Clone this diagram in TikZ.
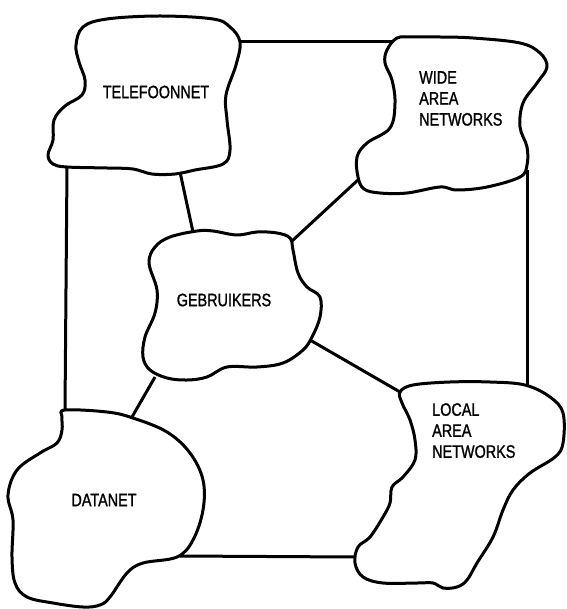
\documentclass[tikz,border=0pt]{standalone}
\usepackage{fontspec}
\newfontfamily\lettering[FakeStretch=0.80,FakeBold=1.2]{Liberation Sans}
\begin{document}
\begin{tikzpicture}[x=1pt,y=-1pt,
  blob/.style={draw=black,line width=3pt,line join=round,smooth cycle,tension=0.6},
  link/.style={draw=black,line width=3pt},
  label/.style={font=\lettering\fontsize{18}{21}\selectfont,inner sep=0pt},
  stack/.style={label,align=left,anchor=north west}]
\useasboundingbox (0,0) rectangle (566,609);
\fill[white] (0,0) rectangle (566,609);

% network clouds
\draw[blob] plot coordinates {(107,19) (83,27) (76,45) (79,62) (85,80) (82,95) (65,106) (54,120) (53,140) (48,155) (53,164) (67,167) (107,168) (133,169) (152,174) (175,174) (195,170) (223,164) (230,150) (227,120) (226,95) (236,65) (240,42) (230,27) (213,19) (160,16)};
\draw[blob] plot coordinates {(397,38) (387,50) (385,63) (392,80) (395,103) (390,128) (367,143) (357,157) (358,177) (364,189) (380,193) (407,193) (440,187) (457,190) (487,187) (520,177) (527,165) (527,147) (520,127) (523,103) (537,83) (547,67) (540,53) (520,43) (473,38) (440,37) (413,37)};
\draw[blob] plot coordinates {(170,237) (155,247) (149,263) (157,290) (155,313) (145,337) (143,357) (150,370) (167,378) (187,380) (207,377) (227,367) (257,367) (283,363) (303,350) (312,337) (320,317) (320,297) (307,287) (298,273) (293,250) (290,238) (277,233) (257,232) (237,235) (213,231) (197,231)};
\draw[blob] plot coordinates {(65,410) (107,412) (133,418) (167,432) (190,453) (203,480) (203,510) (193,540) (177,557) (143,563) (127,573) (110,597) (100,605) (83,607) (53,603) (27,597) (15,583) (12,557) (13,520) (8,495) (17,470) (40,453) (57,443) (62,430) (62,417)};
\draw[blob] plot coordinates {(400,392) (413,385) (450,382) (490,382) (525,385) (550,397) (563,413) (563,443) (555,457) (530,473) (513,490) (503,510) (493,537) (477,563) (467,580) (457,587) (443,588) (433,583) (417,583) (383,583) (363,577) (355,563) (358,547) (370,537) (383,517) (390,503) (392,487) (403,477) (415,460) (415,440) (410,420) (402,403)};

% attachment points on the cloud outlines
\coordinate (telR) at (240,42);
\coordinate (telB) at (67,167);
\coordinate (telG) at (180,172);
\coordinate (wanL) at (392,42);
\coordinate (wanG) at (359,179);
\coordinate (wanB) at (527,170);
\coordinate (gebT) at (193,232);
\coordinate (gebW) at (292,241);
\coordinate (gebL) at (310,340);
\coordinate (gebD) at (155,377);
\coordinate (datT) at (65,410);
\coordinate (datG) at (132,417);
\coordinate (datR) at (180,556);
\coordinate (lanT) at (527,385);
\coordinate (lanG) at (400,392);
\coordinate (lanD) at (355,557);

% connections
\draw[link] (telR) -- (wanL);
\draw[link] (telB) -- (datT);
\draw[link] (telG) -- (gebT);
\draw[link] (wanG) -- (gebW);
\draw[link] (wanB) -- (lanT);
\draw[link] (gebL) -- (lanG);
\draw[link] (gebD) -- (datG);
\draw[link] (datR) -- (lanD);

% labels
\node[label] (telefoonnet) at (156,92) {TELEFOONNET};
\node[label] (gebruikers) at (224,300) {GEBRUIKERS};
\node[label] (datanet) at (104,500) {DATANET};
\node[stack] (wan) at (419,71) {WIDE\\AREA\\NETWORKS};
\node[stack] (lan) at (432,403) {LOCAL\\AREA\\NETWORKS};
\end{tikzpicture}
\end{document}
